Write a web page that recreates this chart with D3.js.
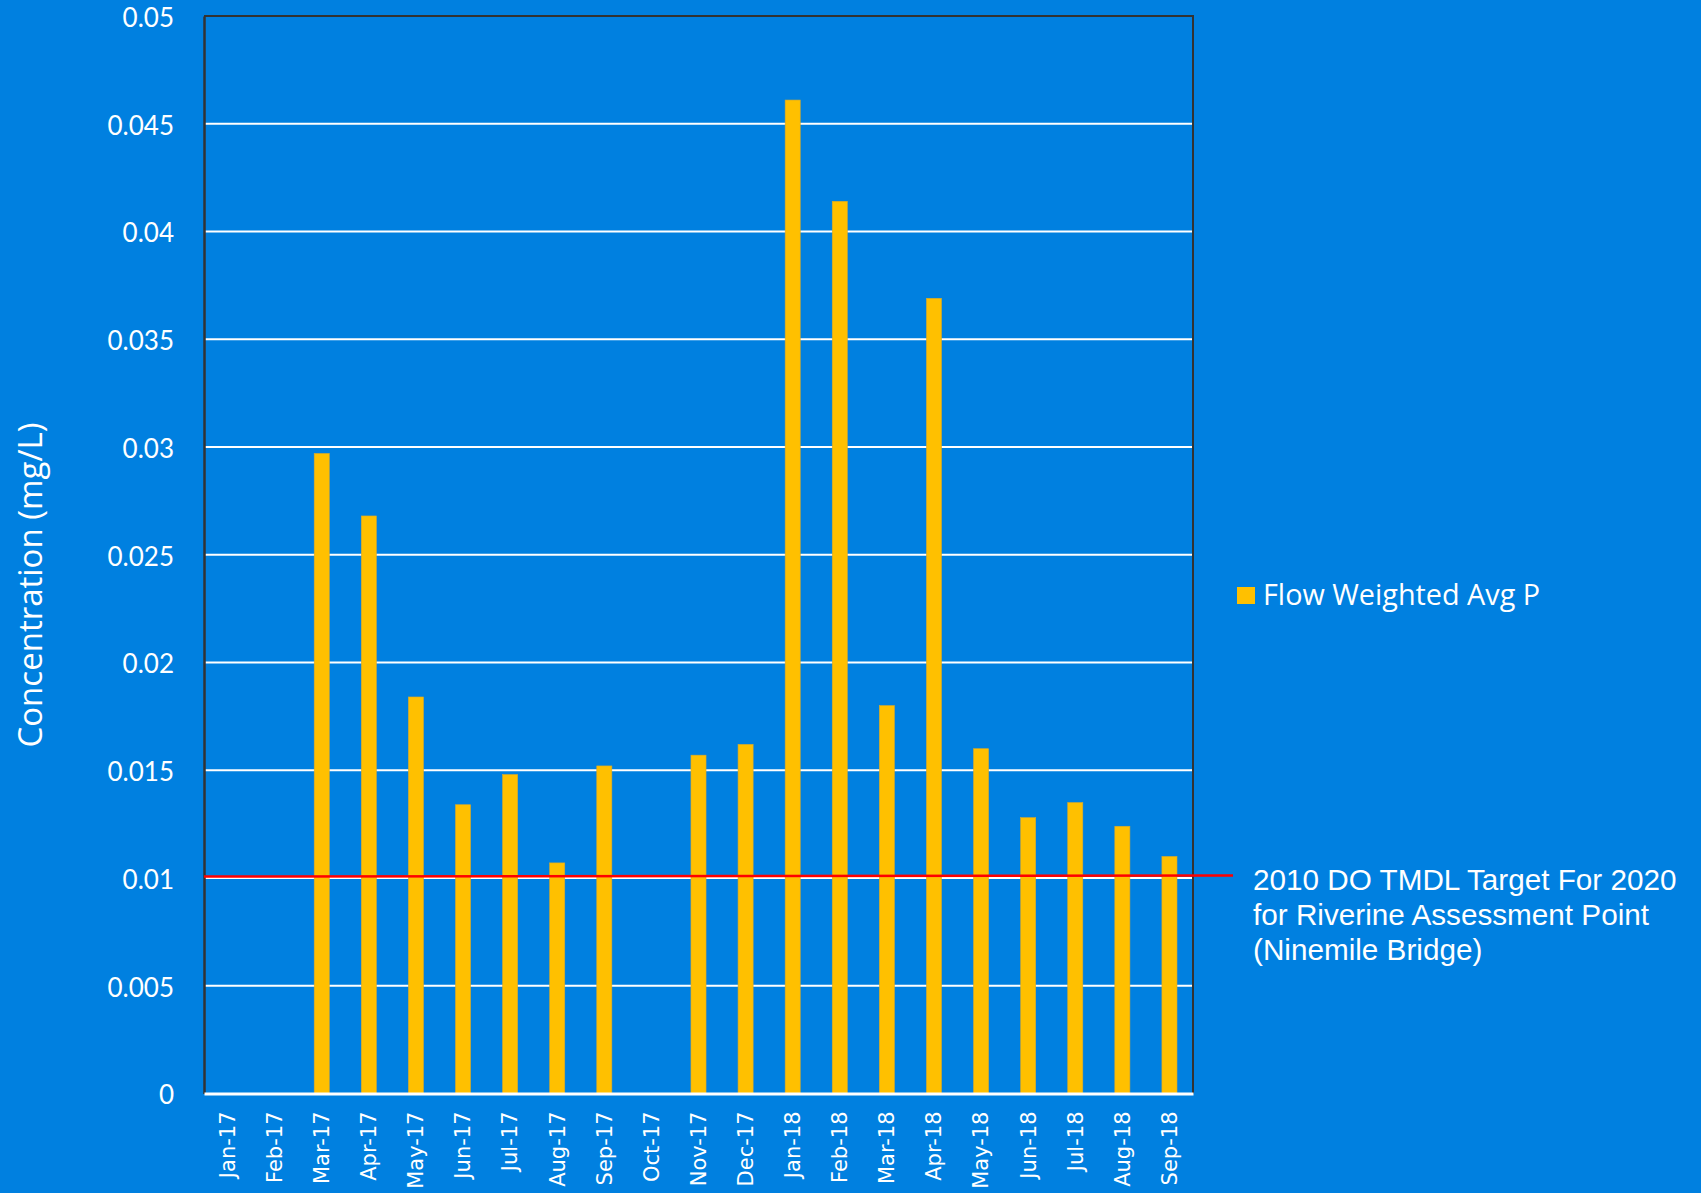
<!DOCTYPE html>
<html>
<head>
<meta charset="utf-8">
<script src="https://cdn.jsdelivr.net/npm/d3@7"></script>
<style>
  html, body { margin: 0; padding: 0; background: #0080e0; }
  svg { display: block; }
</style>
</head>
<body>
<svg id="chart"></svg>
<script>
// months on the x axis
const months = ["Jan-17", "Feb-17", "Mar-17", "Apr-17", "May-17", "Jun-17", "Jul-17",
  "Aug-17", "Sep-17", "Oct-17", "Nov-17", "Dec-17", "Jan-18", "Feb-18", "Mar-18",
  "Apr-18", "May-18", "Jun-18", "Jul-18", "Aug-18", "Sep-18"];

// Flow Weighted Avg P (mg/L), null = no bar
const flowWeightedP = [null, null, 0.0297, 0.0268, 0.0184, 0.0134, 0.0148,
  0.0107, 0.0152, null, 0.0157, 0.0162, 0.0461, 0.0414, 0.0180,
  0.0369, 0.0160, 0.0128, 0.0135, 0.0124, 0.0110];

const yTicks = [0, 0.005, 0.01, 0.015, 0.02, 0.025, 0.03, 0.035, 0.04, 0.045, 0.05];
const targetValue = 0.01;
const seriesName = "Flow Weighted Avg P";
const targetLines = ["2010 DO TMDL Target For 2020", "for Riverine Assessment Point", "(Ninemile Bridge)"];

const width = 1701;
const height = 1193;
const margin = { top: 16, left: 204, right: 508, bottom: 99.5 };
const innerW = width - margin.left - margin.right;
const innerH = height - margin.top - margin.bottom;

const svg = d3.select("#chart")
  .attr("width", width)
  .attr("height", height);

svg.append("rect")
  .attr("width", width)
  .attr("height", height)
  .attr("fill", "#0080e0");

const g = svg.append("g")
  .attr("transform", `translate(${margin.left},${margin.top})`);

const x = d3.scaleBand()
  .domain(months)
  .range([0, innerW])
  .paddingInner(0.68)
  .paddingOuter(0.34);

const y = d3.scaleLinear()
  .domain([0, 0.05])
  .range([innerH, 0]);

// gridlines
g.selectAll(".grid")
  .data(yTicks.filter(t => t > 0 && t < 0.05))
  .enter()
  .append("line")
  .attr("x1", 0)
  .attr("x2", innerW)
  .attr("y1", d => y(d))
  .attr("y2", d => y(d))
  .attr("stroke", "#ffffff")
  .attr("stroke-width", 2);

// frame top + right
g.append("path")
  .attr("d", `M0,${y(0.05)}H${innerW}V${innerH}`)
  .attr("fill", "none")
  .attr("stroke", "#333333")
  .attr("stroke-width", 2);

// bars
const barData = months.map((m, i) => ({ month: m, value: flowWeightedP[i] }))
  .filter(d => d.value != null);

g.selectAll(".bar")
  .data(barData)
  .enter()
  .append("rect")
  .attr("class", "bar")
  .attr("x", d => x(d.month))
  .attr("y", d => y(d.value))
  .attr("width", x.bandwidth())
  .attr("height", d => innerH - y(d.value))
  .attr("fill", "#ffc000")
  .attr("stroke", "#d9a92a")
  .attr("stroke-width", 0.6);

// y axis
const yAxis = g.append("g")
  .call(d3.axisLeft(y).tickValues(yTicks).tickSize(0).tickPadding(30)
    .tickFormat(d => d === 0 ? "0" : String(+d.toFixed(3))));
yAxis.select(".domain").attr("stroke", "#333333").attr("stroke-width", 2.5);
yAxis.selectAll("text")
  .attr("fill", "#ffffff")
  .style("font-family", "Lato, 'Open Sans', sans-serif")
  .style("font-size", "26px")
  .attr("dy", "0.4em");

// x axis
const xAxis = g.append("g")
  .attr("transform", `translate(0,${innerH})`)
  .call(d3.axisBottom(x).tickSize(0));
xAxis.select(".domain").attr("stroke", "#ffffff").attr("stroke-width", 3);
xAxis.selectAll("text")
  .attr("fill", "#ffffff")
  .style("font-family", "'DejaVu Sans', sans-serif")
  .style("font-size", "21px")
  .attr("transform", "rotate(-90)")
  .attr("text-anchor", "end")
  .attr("x", -18)
  .attr("y", 0)
  .attr("dy", "0.35em");

// target line
g.append("line")
  .attr("x1", 0)
  .attr("x2", 1233 - margin.left)
  .attr("y1", y(targetValue) - 1.5)
  .attr("y2", y(targetValue) - 2.5)
  .attr("stroke", "#ff0000")
  .attr("stroke-width", 2.5);

// y axis title
svg.append("text")
  .attr("transform", "translate(42,585) rotate(-90)")
  .attr("text-anchor", "middle")
  .attr("fill", "#ffffff")
  .style("font-family", "'Open Sans', sans-serif")
  .style("font-size", "33px")
  .text("Concentration (mg/L)");

// legend
const legend = svg.append("g").attr("transform", "translate(1237,587)");
legend.append("rect")
  .attr("width", 18)
  .attr("height", 17)
  .attr("fill", "#ffc000");
legend.append("text")
  .attr("x", 26)
  .attr("y", 18)
  .attr("fill", "#ffffff")
  .style("font-family", "'Open Sans', sans-serif")
  .style("font-size", "28.8px")
  .text(seriesName);

// target annotation
svg.append("text")
  .attr("x", 1253)
  .attr("y", 890)
  .attr("fill", "#ffffff")
  .style("font-family", "'Liberation Sans', Arial, sans-serif")
  .style("font-size", "29.7px")
  .selectAll("tspan")
  .data(targetLines)
  .enter()
  .append("tspan")
  .attr("x", 1253)
  .attr("dy", (d, i) => i === 0 ? 0 : 35)
  .text(d => d);
</script>
</body>
</html>
